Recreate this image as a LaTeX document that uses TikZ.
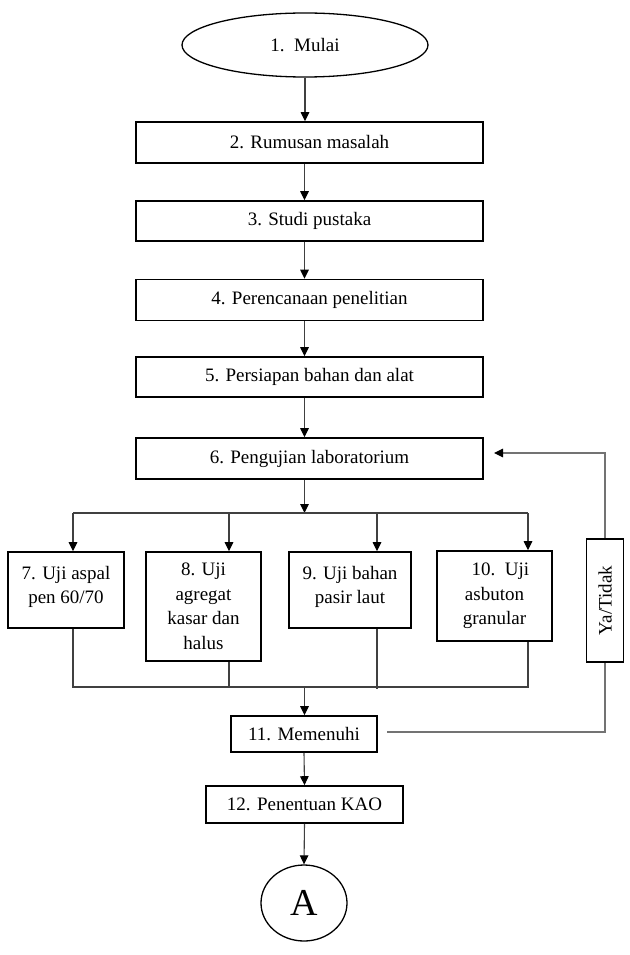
\documentclass[tikz,border=0pt]{standalone}
\usepackage{fontspec}
\setmainfont{Liberation Serif}
\usetikzlibrary{arrows.meta,shapes.geometric}
\begin{document}
\begin{tikzpicture}[x=1pt,y=-1pt,
  txt/.style={font=\fontsize{19}{24.5}\selectfont, align=center, inner sep=0pt},
  box/.style={txt, draw=black, line width=1.6pt, rectangle},
  oval/.style={txt, draw=black, line width=1.3pt, ellipse},
  conn/.style={draw=black!75, line width=1.1pt},
  tip/.style={-{Triangle[length=9pt,width=8.5pt,color=black]}},
  arr/.style={conn, tip},
  fb/.style={draw=black!55, line width=1.1pt}]
\useasboundingbox (0,0) rectangle (629,955);
\fill[white] (0,0) rectangle (629,955);

\node[oval, minimum width=246pt, minimum height=64pt] (n1) at (305,45) {1.~~Mulai};
\node[box, minimum width=347pt, minimum height=41pt] (n2) at (309.5,142.5) {2. Rumusan masalah};
\node[box, minimum width=347pt, minimum height=40pt] (n3) at (309.5,221) {3. Studi pustaka};
\node[box, minimum width=347pt, minimum height=41pt] (n4) at (309.5,300) {4. Perencanaan penelitian};
\node[box, minimum width=347pt, minimum height=40pt] (n5) at (309.5,377) {5. Persiapan bahan dan alat};
\node[box, minimum width=347pt, minimum height=41pt] (n6) at (309.5,458.5) {6. Pengujian laboratorium};

\node[box, minimum width=116pt, minimum height=76pt] (n7) at (66,590) {7. Uji aspal\\pen 60/70\\[-14pt]\mbox{}};
\node[box, minimum width=115pt, minimum height=109pt] (n8) at (203.5,606.5) {8. Uji\\agregat\hspace*{15pt}\\kasar dan\\halus};
\node[box, minimum width=122pt, minimum height=76pt] (n9) at (350,590) {9. Uji bahan\\pasir laut\\[-14pt]\mbox{}};
\node[box, minimum width=115pt, minimum height=90pt] (n10) at (494.5,596) {\hspace*{12pt}10.~~Uji\\asbuton\hspace*{5pt}\\granular};
\node[box, rotate=90, minimum width=123pt, minimum height=37pt] (n13) at (605,600.5) {Ya/Tidak};

\node[box, minimum width=146pt, minimum height=36pt] (n11) at (304,734) {11. Memenuhi};
\node[box, minimum width=197pt, minimum height=37pt] (n12) at (304.5,804.5) {12. Penentuan KAO};
\node[oval, font=\fontsize{38}{40}\selectfont, minimum width=86pt, minimum height=76pt] (nA) at (304,903) {A};

\coordinate (mx) at (304.5,0);
\coordinate (br) at (304.5,513);
\coordinate (b1) at (73,513);
\coordinate (b2) at (229,513);
\coordinate (b3) at (377,513);
\coordinate (b4) at (528,513);
\coordinate (j1) at (73,687);
\coordinate (j4) at (528,687);
\coordinate (jm) at (304.5,687);
\coordinate (f0) at (387,732);
\coordinate (f1) at (494,453);

\draw[arr] (n1.south) -- (n2.north -| n1.south);
\draw[arr] (n2.south -| mx) -- (n3.north -| mx);
\draw[arr] (n3.south -| mx) -- (n4.north -| mx);
\draw[arr] (n4.south -| mx) -- (n5.north -| mx);
\draw[arr] (n5.south -| mx) -- (n6.north -| mx);
\draw[arr] (n6.south -| mx) -- (br);

\draw[conn] (b1) -- (b4);
\draw[arr] (b1) -- (n7.north -| b1);
\draw[arr] (b2) -- (n8.north -| b2);
\draw[arr] (b3) -- (n9.north -| b3);
\draw[arr] (b4) -- (n10.north -| b4);

\draw[conn] (n7.south -| b1) -- (j1) -- (j4) -- (n10.south -| b4);
\draw[conn] (n8.south -| b2) -- (b2 |- j1);
\draw[conn] (n9.south -| b3) -- ([yshift=-2pt]b3 |- j1);
\draw[arr] (jm) -- (n11.north -| jm);
\draw[arr] (n11.south) -- (n12.north);
\draw[arr] (n12.south) -- (nA.north);

\draw[fb] (f0) -| (n13.west);
\draw[fb, tip] (n13.east) |- (f1);
\end{tikzpicture}
\end{document}
